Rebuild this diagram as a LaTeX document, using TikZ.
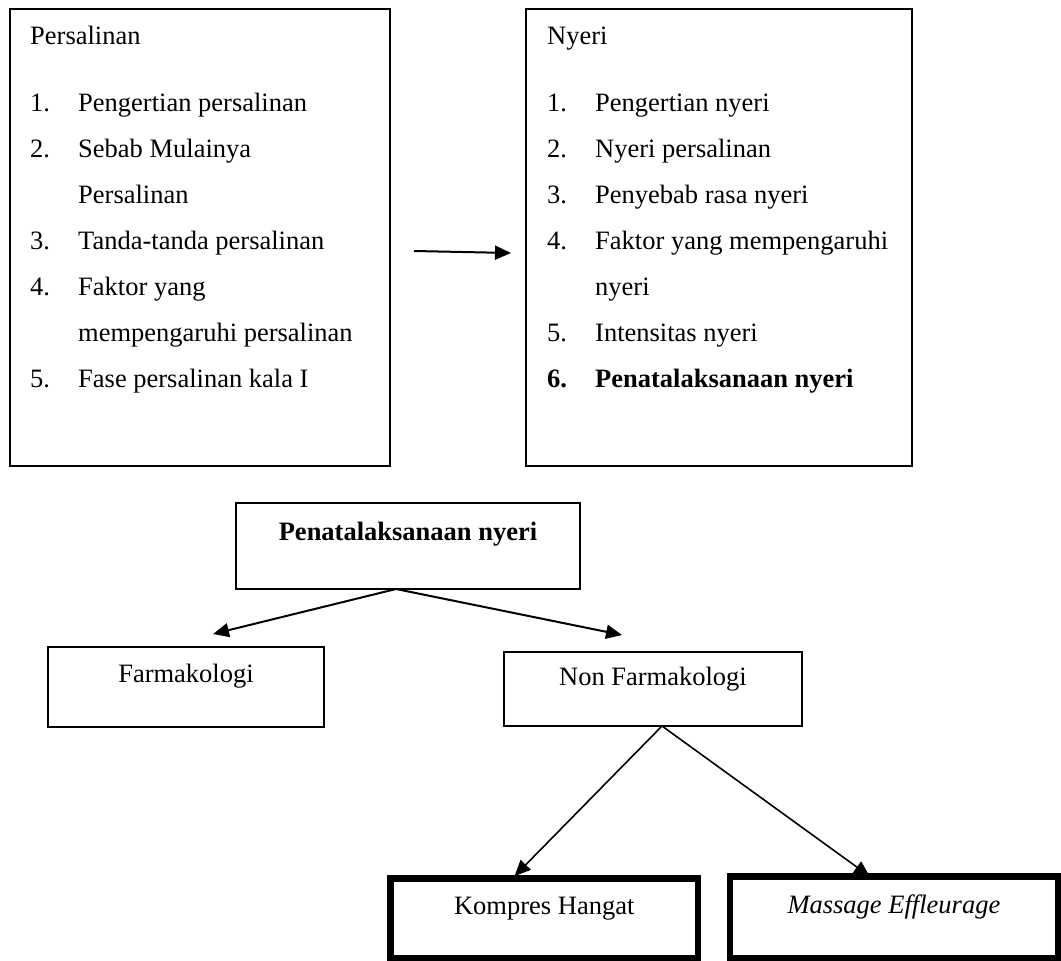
\documentclass[tikz,border=0pt]{standalone}
\usepackage{fontspec}
\setmainfont{Liberation Serif}
\usetikzlibrary{arrows.meta,calc}
\pgfdeclarelayer{background}
\pgfsetlayers{background,main}
\begin{document}
\begin{tikzpicture}[x=1pt,y=-1pt,
  every node/.style={font=\fontsize{26.5pt}{46pt}\selectfont},
  box/.style={draw, line width=2pt, fill=white, outer sep=0pt, inner sep=0pt, anchor=north west},
  thickbox/.style={box, line width=6.5pt},
  txt/.style={inner sep=0pt, anchor=base west},
  ctxt/.style={inner sep=0pt, anchor=base},
  conn/.style={line width=2pt, -{Triangle[length=16pt,width=14pt]}},
  connthin/.style={line width=1.6pt, -{Triangle[length=16pt,width=14pt]}},
]
\useasboundingbox (0,0) rectangle (1061,961);

% boxes
\node[box, minimum width=380pt, minimum height=457pt] (pers) at (10,9) {};
\node[box, minimum width=386pt, minimum height=457pt] (nyeri) at (526,9) {};
\node[box, minimum width=344pt, minimum height=86pt] (pen) at (236,503) {};
\node[box, minimum width=276pt, minimum height=80pt] (farm) at (48,647) {};
\node[box, minimum width=298pt, minimum height=74pt] (nonf) at (504,652) {};
\node[thickbox, minimum width=307.5pt, minimum height=79.5pt] (komp) at (390.5,878.5) {};
\node[thickbox, minimum width=327.75pt, minimum height=81.5pt] (mass) at (730,876.5) {};

% Persalinan box text
\node[txt] (p0) at (30,44) {Persalinan};
\node[txt] (p1n) at (30,111) {1.};
\node[txt] (p1) at (78,111) {Pengertian persalinan};
\node[txt] (p2n) at (30,157) {2.};
\node[txt] (p2) at (78,157) {Sebab Mulainya};
\node[txt] (p2b) at (78,203) {Persalinan};
\node[txt] (p3n) at (30,249) {3.};
\node[txt] (p3) at (78,249) {Tanda-tanda persalinan};
\node[txt] (p4n) at (30,295) {4.};
\node[txt] (p4) at (78,295) {Faktor yang};
\node[txt] (p4b) at (78,341) {mempengaruhi persalinan};
\node[txt] (p5n) at (30,387) {5.};
\node[txt] (p5) at (78,387) {Fase persalinan kala I};

% Nyeri box text
\node[txt] (n0) at (547,44) {Nyeri};
\node[txt] (n1n) at (547,111) {1.};
\node[txt] (n1) at (595,111) {Pengertian nyeri};
\node[txt] (n2n) at (547,157) {2.};
\node[txt] (n2) at (595,157) {Nyeri persalinan};
\node[txt] (n3n) at (547,203) {3.};
\node[txt] (n3) at (595,203) {Penyebab rasa nyeri};
\node[txt] (n4n) at (547,249) {4.};
\node[txt] (n4) at (595,249) {Faktor yang mempengaruhi};
\node[txt] (n4b) at (595,295) {nyeri};
\node[txt] (n5n) at (547,341) {5.};
\node[txt] (n5) at (595,341) {Intensitas nyeri};
\node[txt] (n6n) at (547,387) {\textbf{6.}};
\node[txt] (n6) at (595,387) {\textbf{Penatalaksanaan nyeri}};

% lower box texts
\node[ctxt] (pentx) at (408,540) {\textbf{Penatalaksanaan nyeri}};
\node[ctxt] (farmtx) at (186,682) {Farmakologi};
\node[ctxt] (nonftx) at (653,685) {Non Farmakologi};
\node[ctxt] (komptx) at (544.25,914) {Kompres Hangat};
\node[ctxt] (masstx) at (893.9,913) {\textit{Massage Effleurage}};

% connectors
\begin{pgfonlayer}{background}
\coordinate (a0) at ($(pers.east)+(24,13.5)$);
\coordinate (a1) at ($(nyeri.west)+(-15,15.5)$);
\draw[conn] (a0) -- (a1);

\coordinate (ps) at ($(pen.south)+(-12,0)$);
\coordinate (ftip) at ($(farm.north)+(27,-13)$);
\coordinate (ntip) at ($(nonf.north)+(-31,-17)$);
\draw[conn] (ps) -- (ftip);
\draw[conn] (ps) -- (ntip);

\coordinate (ns) at ($(nonf.south)+(9,0)$);
\coordinate (kt) at ($(komp.north)+(-32,0)$);
\coordinate (mt) at ($(mass.north)+(-24,0)$);
\draw[connthin, shorten >=3.25pt] (ns) -- (kt);
\draw[connthin] (ns) -- (mt);
\end{pgfonlayer}
\end{tikzpicture}
\end{document}
